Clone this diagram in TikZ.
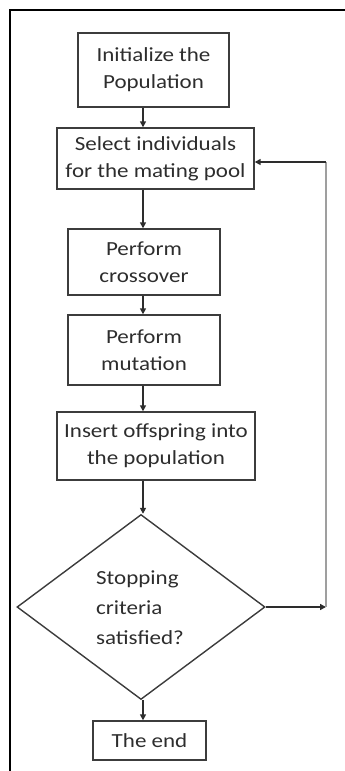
\documentclass[tikz,border=0pt]{standalone}
\usepackage{fontspec}
\setmainfont{Carlito}[FakeStretch=1.15]
\usetikzlibrary{arrows.meta,shapes.geometric}

\definecolor{ink}{RGB}{45,45,45}
\definecolor{edge}{RGB}{60,60,60}

\tikzset{
  flowbox/.style={draw=edge, line width=1.4pt, rectangle, inner sep=0pt,
    align=center, text=ink, font=\fontsize{20}{27}\selectfont},
  decision/.style={draw=edge, line width=1.4pt, diamond, inner sep=0pt,
    align=left, text=ink, font=\fontsize{20}{30}\selectfont},
  arr/.style={draw=ink, line width=1.5pt,
    -{Triangle[length=6pt,width=6pt]}},
  plainline/.style={draw=ink, line width=1.5pt},
  loopline/.style={draw=gray!75, line width=1.3pt},
  frame/.style={draw=black, line width=2.4pt}
}

\begin{document}
\begin{tikzpicture}[x=1pt,y=1pt]
  \useasboundingbox (0,0) rectangle (345,-771);

  % page frame: top and left rules only
  \draw[frame] (10,-771) -- (10,-10) -- (345,-10);

  % process steps
  \node[flowbox, minimum width=151pt, minimum height=74pt] (init) at (153.5,-70)
    {Initialize the\\Population};
  \node[flowbox, minimum width=197pt, minimum height=61pt] (select) at (155.5,-158.5)
    {Select individuals\\for the mating pool};
  \node[flowbox, minimum width=152pt, minimum height=66pt] (cross) at (144,-262)
    {Perform\\crossover};
  \node[flowbox, minimum width=152pt, minimum height=70pt] (mut) at (144,-350)
    {Perform\\mutation};
  \node[flowbox, minimum width=198pt, minimum height=68pt] (insert) at (156,-446)
    {Insert offspring into\\the population};
  \node[decision, minimum width=248pt, minimum height=185pt, aspect=1.34] (stop) at (141,-607) {};
  \node[align=left, text=ink, font=\fontsize{20}{30}\selectfont] (stoptext) at (140,-608)
    {Stopping\\criteria\\satisfied?};
  \node[flowbox, minimum width=113pt, minimum height=39pt] (theend) at (149.5,-740.5)
    {The end};

  % main flow runs down one vertical spine
  \coordinate (spine) at (143,0);
  \draw[arr] (init.south -| spine) -- (select.north -| spine);
  \draw[arr] (select.south -| spine) -- (cross.north -| spine);
  \draw[arr] (cross.south -| spine) -- (mut.north -| spine);
  \draw[arr] (mut.south -| spine) -- (insert.north -| spine);
  \draw[arr] (insert.south -| spine) -- (stop.north -| spine);
  \draw[arr] (stop.south -| spine) -- (theend.north -| spine);

  % loop back to selection when not satisfied
  \coordinate (loopB) at (326,-607);
  \coordinate (loopT) at (326,-162);
  \draw[arr] (stop.east) -- (loopB);
  \draw[loopline] (loopB) -- (loopT);
  \draw[arr] (loopT) -- (loopT -| select.east);
\end{tikzpicture}
\end{document}
